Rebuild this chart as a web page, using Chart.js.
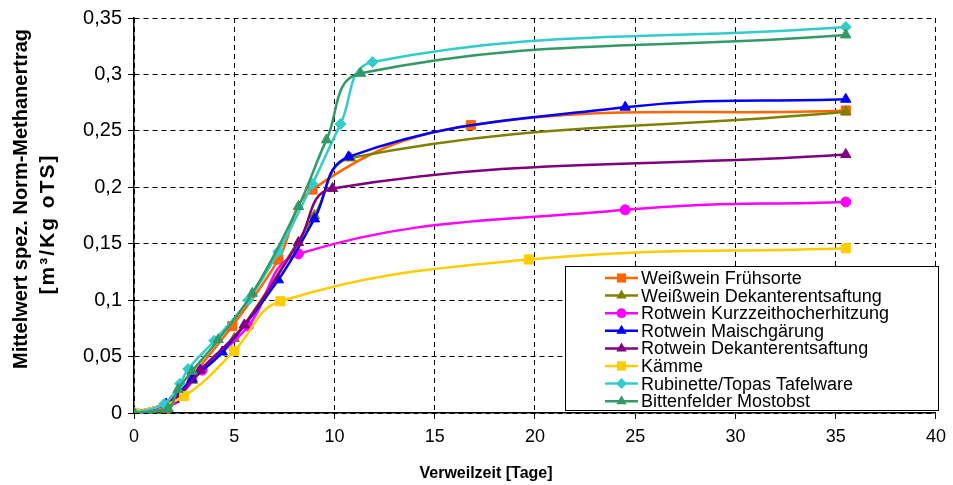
<!DOCTYPE html>
<html><head><meta charset="utf-8">
<script src="https://cdn.jsdelivr.net/npm/chart.js@4.4.0/dist/chart.umd.min.js"></script>
<style>html,body{margin:0;padding:0;background:#fff}#wrap{width:953px;height:485px}</style>
</head><body><div id="wrap"><canvas id="c" width="953" height="485"></canvas></div>
<script>
const seriesNames = ['Weißwein Frühsorte','Weißwein Dekanterentsaftung','Rotwein Kurzzeithocherhitzung','Rotwein Maischgärung','Rotwein Dekanterentsaftung','Kämme','Rubinette/Topas Tafelware','Bittenfelder Mostobst'];
const xWeissFrueh = [0, 1.6, 2.9, 4.9, 7.2, 8.9, 16.8, 35.5];
const yWeissFrueh = [0, 0.005, 0.033, 0.077, 0.136, 0.198, 0.255, 0.268];
const xWeissDek = [0, 1.6, 2.9, 5.0, 9.0, 10.8, 35.5];
const yWeissDek = [0, 0.003, 0.029, 0.066, 0.175, 0.226, 0.267];
const xRotKzh = [0, 2.0, 3.4, 5.7, 8.2, 24.5, 35.5];
const yRotKzh = [0, 0.012, 0.038, 0.077, 0.141, 0.180, 0.187];
const xRotMaisch = [0, 1.6, 2.9, 4.4, 7.2, 9.0, 10.7, 24.5, 35.5];
const yRotMaisch = [0, 0.008, 0.030, 0.054, 0.118, 0.172, 0.227, 0.271, 0.278];
const xRotDek = [0, 2.0, 3.3, 5.5, 8.2, 9.9, 35.5];
const yRotDek = [0, 0.012, 0.038, 0.078, 0.151, 0.199, 0.229];
const xKaemme = [0, 2.5, 5.0, 7.3, 19.7, 35.5];
const yKaemme = [0, 0.015, 0.055, 0.099, 0.136, 0.146];
const xRubinette = [0, 1.5, 2.3, 2.7, 4.0, 5.7, 7.2, 8.9, 10.3, 11.9, 35.5];
const yRubinette = [0, 0.008, 0.026, 0.039, 0.064, 0.100, 0.143, 0.203, 0.256, 0.311, 0.342];
const xBitten = [0, 1.7, 2.2, 2.9, 4.2, 5.9, 8.2, 9.6, 11.3, 35.5];
const yBitten = [0, 0.004, 0.021, 0.037, 0.065, 0.106, 0.183, 0.242, 0.301, 0.335];
const yTickLabels = ['0','0,05','0,1','0,15','0,2','0,25','0,3','0,35'];
const xTickLabels = ['0','5','10','15','20','25','30','35','40'];
const xTitle = 'Verweilzeit [Tage]';
const yTitle = ['Mittelwert spez. Norm-Methanertrag','[m³/Kg oTS]'];

const xs = [xWeissFrueh,xWeissDek,xRotKzh,xRotMaisch,xRotDek,xKaemme,xRubinette,xBitten];
const ys = [yWeissFrueh,yWeissDek,yRotKzh,yRotMaisch,yRotDek,yKaemme,yRubinette,yBitten];
const colors = ['#FF6600','#808000','#FF00FF','#0000FF','#800080','#FFCC00','#33CCCC','#339966'];
const styles = ['rect','triangle','circle','triangle','triangle','rect','rectRot','triangle'];
const radii = [6.5,6,5,6,6,6.5,5.5,6];
const FONT = '"Liberation Sans", Arial, sans-serif';

const datasets = seriesNames.map((n,i)=>({
  label:n,
  data: xs[i].map((x,j)=>({x:x,y:ys[i][j]})),
  borderColor:colors[i], backgroundColor:colors[i],
  pointBackgroundColor:colors[i], pointBorderColor:colors[i],
  pointStyle:styles[i], pointRadius:radii[i], pointBorderWidth:1,
  borderWidth:2.5, tension:0.4, fill:false,
  order: 8-i
}));

const textPlugin = {
  id:'texts',
  afterDraw(chart){
    const ctx = chart.ctx;
    ctx.save();
    // legend box
    const L=565, T=266, R=938, B=410;
    ctx.fillStyle='#fff'; ctx.fillRect(L,T,R-L,B-T);
    ctx.strokeStyle='#000'; ctx.lineWidth=1; ctx.strokeRect(L+0.5,T+0.5,R-L,B-T);
    ctx.font='18px '+FONT;
    ctx.textBaseline='middle'; ctx.textAlign='left';
    seriesNames.forEach((n,i)=>{
      const y = 278 + i*17.6;
      ctx.strokeStyle=colors[i]; ctx.lineWidth=2.5;
      ctx.beginPath(); ctx.moveTo(605,y); ctx.lineTo(638,y); ctx.stroke();
      ctx.fillStyle=colors[i];
      Chart.helpers.drawPoint(ctx,{pointStyle:styles[i],radius:radii[i],rotation:0,borderWidth:0},621.5,y);
      ctx.fillStyle='#000';
      ctx.fillText(n,641,y+1);
    });
    // axis titles
    ctx.fillStyle='#000';
    ctx.textAlign='center'; ctx.textBaseline='middle';
    ctx.font='bold 16px '+FONT;
    ctx.fillText(xTitle,486,474);
    ctx.font='bold 20px '+FONT;
    ctx.save(); ctx.translate(21,199); ctx.rotate(-Math.PI/2); ctx.fillText(yTitle[0],0,0); ctx.restore();
    ctx.font='bold 21px '+FONT;
    ctx.letterSpacing='2px';
    ctx.save(); ctx.translate(48,224); ctx.rotate(-Math.PI/2); ctx.fillText(yTitle[1],0,0); ctx.restore();
    ctx.letterSpacing='0px';
    ctx.restore();
  }
};

new Chart(document.getElementById('c'),{
  type:'line',
  data:{datasets},
  plugins:[textPlugin],
  options:{
    responsive:false, animation:false,
    layout:{padding:{left:0,right:14,top:18,bottom:0}},
    plugins:{legend:{display:false},tooltip:{enabled:false}},
    scales:{
      x:{type:'linear',min:0,max:40,
        afterFit(s){s.height=72;},
        ticks:{stepSize:5,color:'#000',font:{family:FONT,size:18},padding:7,
          callback:(v,i)=>xTickLabels[i]},
        grid:{color:'#000',tickLength:6,tickBorderDash:[],tickColor:'#000',lineWidth:1},
        border:{display:true,color:'#000',width:1.5,dash:[5,4]}
      },
      y:{type:'linear',min:0,max:0.35,
        afterFit(s){s.width=134;},
        ticks:{stepSize:0.05,color:'#000',font:{family:FONT,size:20},padding:6,
          callback:(v,i)=>yTickLabels[i]},
        grid:{color:'#000',tickLength:6,tickBorderDash:[],tickColor:'#000',lineWidth:1},
        border:{display:true,color:'#000',width:1.5,dash:[5,4]}
      }
    }
  }
});
</script></body></html>
